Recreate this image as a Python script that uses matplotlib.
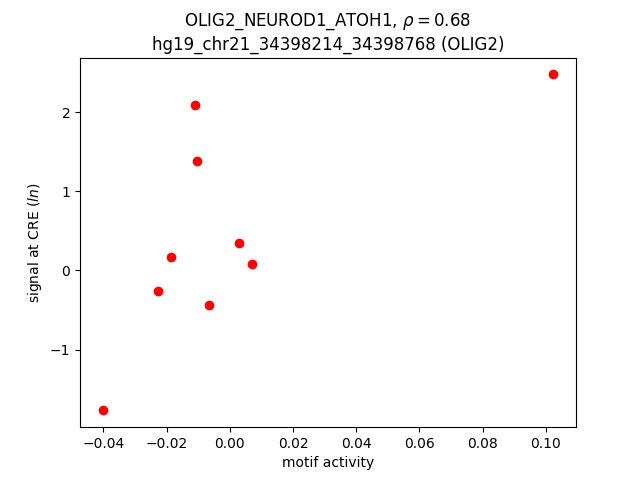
"""
Scatter of motif activity vs. CRE signal for a single locus.
"""
import matplotlib
matplotlib.use("Agg")
import matplotlib.pyplot as plt

motif_activity = [-0.0403, -0.0228, -0.0187, -0.0110, -0.0103, -0.0066,
                  0.0028, 0.0069, 0.1024]
cre_signal = [-1.77, -0.265, 0.165, 2.09, 1.38, -0.443, 0.342, 0.076, 2.48]

TITLE = ("OLIG2_NEUROD1_ATOH1, $\\rho = 0.68$\n"
         "hg19_chr21_34398214_34398768 (OLIG2)")

fig, ax = plt.subplots(figsize=(6.4, 4.8), dpi=100)
ax.scatter(motif_activity, cre_signal, color="red")
ax.set_title(TITLE)
ax.set_xlabel("motif activity")
ax.set_ylabel("signal at CRE ($ln$)")
fig.savefig("out.png")
